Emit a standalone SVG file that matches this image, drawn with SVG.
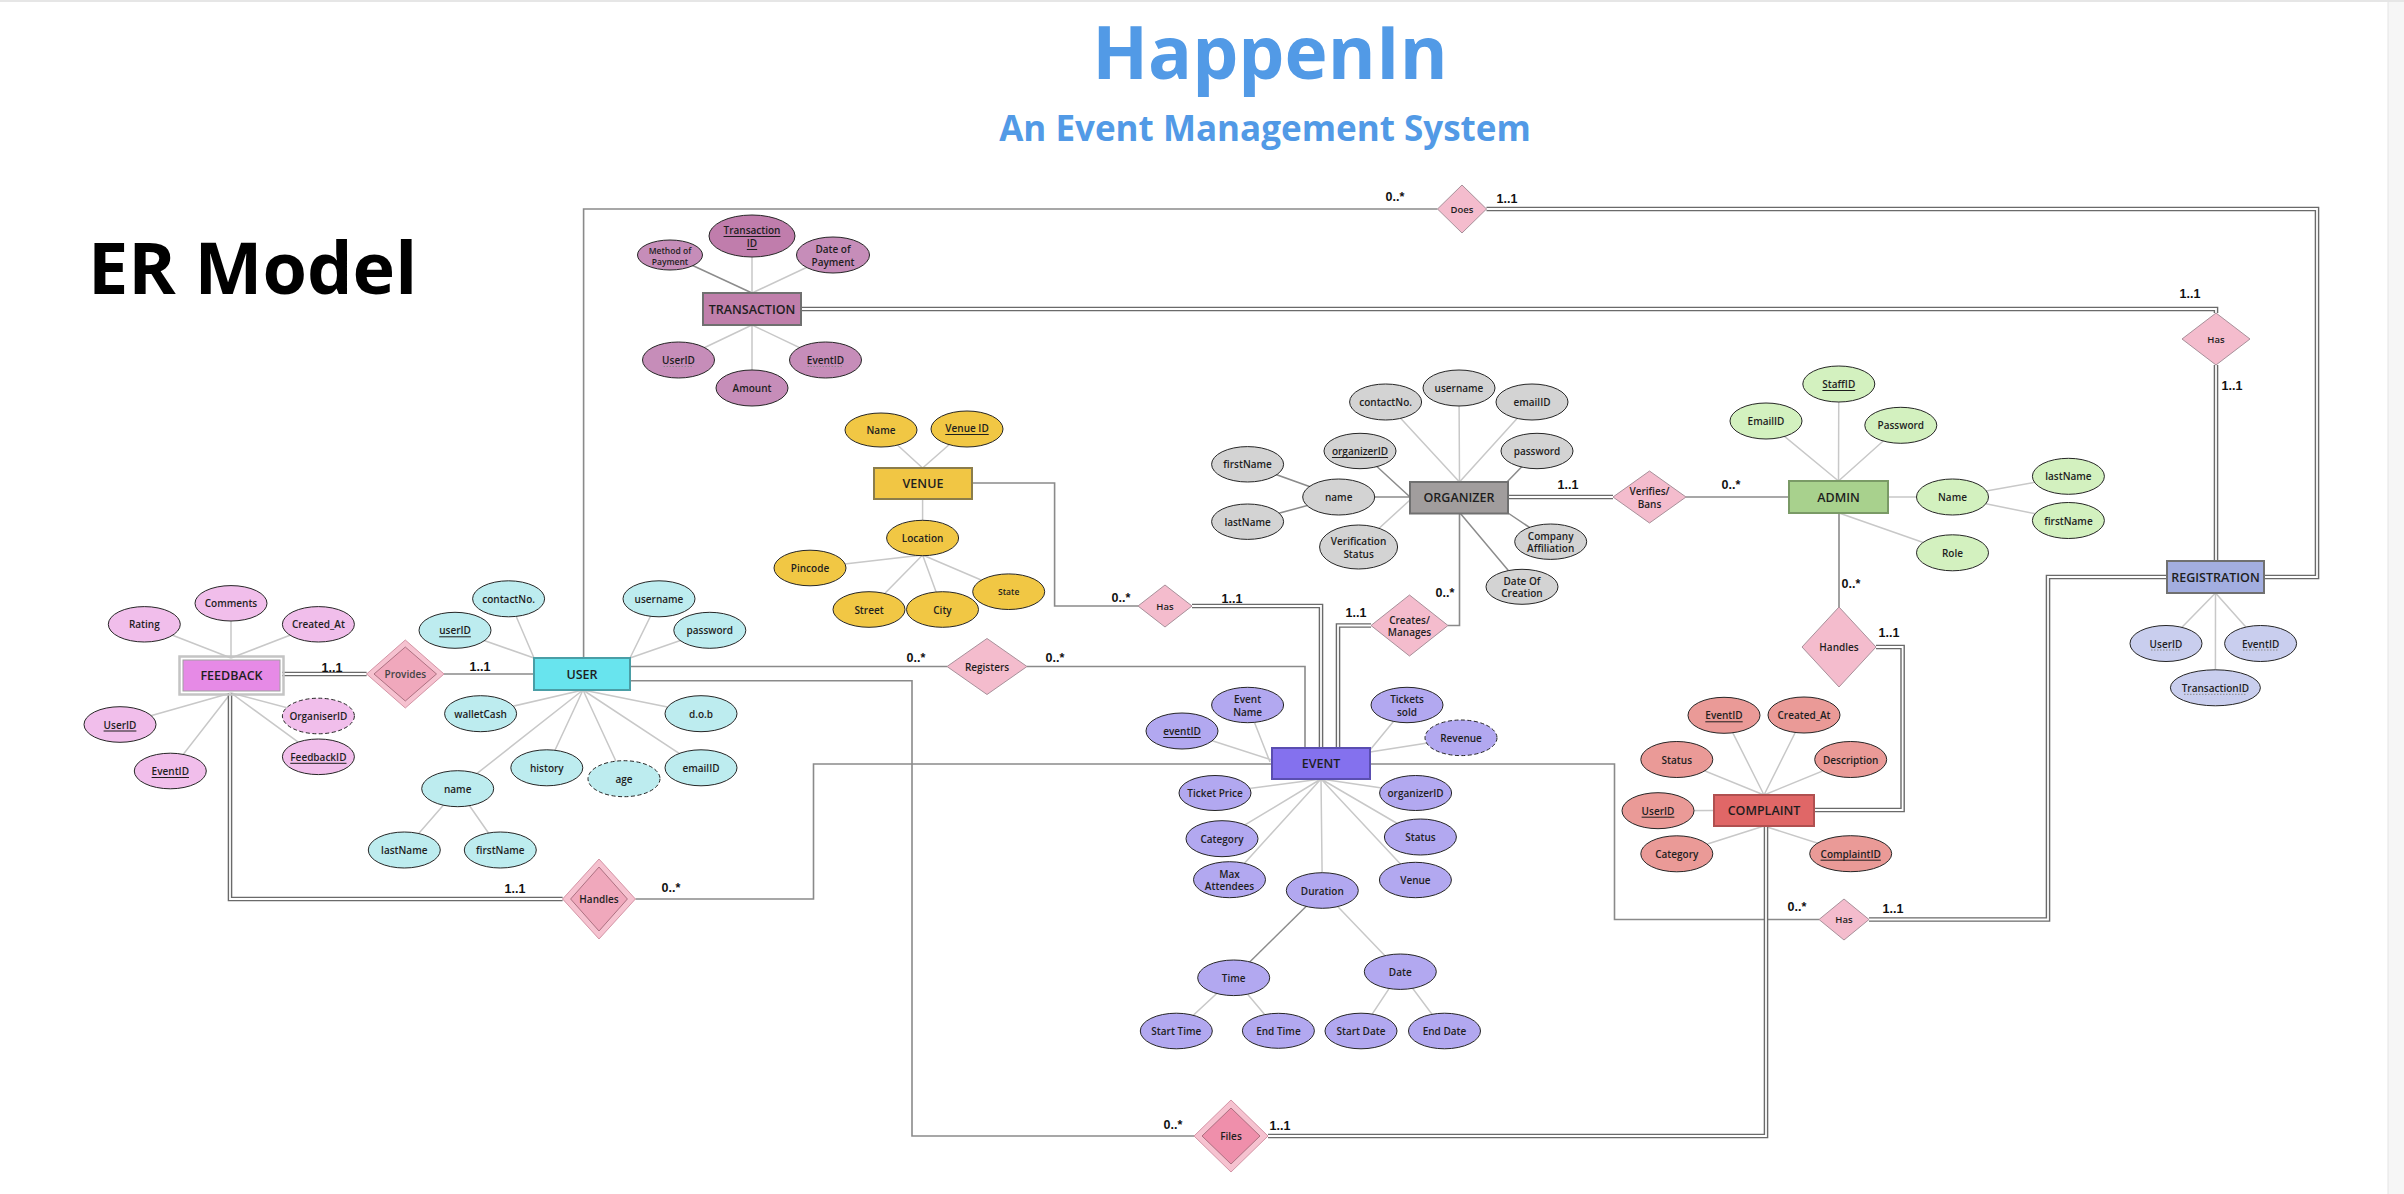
<svg xmlns="http://www.w3.org/2000/svg" width="2404" height="1194" viewBox="0 0 2404 1194">
<style>
text{font-family:"Open Sans","Noto Sans","DejaVu Sans",sans-serif;font-weight:600;font-size:10px;text-anchor:middle;dominant-baseline:central;fill:#1e1e1e}
.ent{stroke:#707070;stroke-width:2}
.att{stroke:#262626;stroke-width:1}
.dash{stroke-dasharray:4 2.5}
.el{font-size:12.5px}
.sm{font-size:8.5px}
.al{stroke:#c8c8c8;stroke-width:1.5;fill:none}
.ad{stroke:#8c8c8c;stroke-width:1.5;fill:none}
.rl{stroke:#8a8a8a;stroke-width:1.6;fill:none}
.dbo{stroke:#6a6a6a;stroke-width:4.6;fill:none}
.dbi{stroke:#fff;stroke-width:1.8;fill:none}
.rel{fill:#F4BCCD;stroke:#a8909a;stroke-width:1}
.relo{fill:#F6C2D0;stroke:#d495a6;stroke-width:1}
.reli{fill:#F0A8BC;stroke:#9a6070;stroke-width:0.8}
.relf{fill:#EF8FAB;stroke:#9a6070;stroke-width:0.8}
.card{font-family:"Liberation Sans",Arial,sans-serif;font-weight:bold;font-size:12.5px;fill:#111}
.pk{text-decoration:underline}
.fk{stroke:#8a8a8a;stroke-width:1;stroke-dasharray:1.5 1.5}
.tre{fill:#C07FAB}.tra{fill:#C68DB9}.trk{fill:#C07DAC}
.vee{fill:#F1C644}.vea{fill:#F1C744}
.ore{fill:#A19D9D}.ora{fill:#D3D3D3}
.ade{fill:#A8D18D}.ada{fill:#D3F1BF}
.rge{fill:#A3AEE0}.rga{fill:#C9CEEE}
.coe{fill:#E06767}.coa{fill:#EA9A97}
.eve{fill:#8471EE}.eva{fill:#B2A8F0}
.use{fill:#68E4EE}.usa{fill:#BDECEF}
.fbe{fill:#E68AE6}.fba{fill:#F1BEEB}
</style>
<rect x="0" y="0" width="2404" height="1194" fill="#fff"/>
<rect x="2388" y="0" width="16" height="1194" fill="#f6f6f6"/>
<line x1="2388" y1="0" x2="2388" y2="1194" stroke="#e4e4e4" stroke-width="1"/>
<line x1="0" y1="1" x2="2404" y2="1" stroke="#e6e6e6" stroke-width="2"/>

<g id="titles">
<text x="1270" y="50" style="font-family:'Open Sans','Noto Sans',sans-serif;font-weight:bold;font-size:73px;fill:#529AE6">HappenIn</text>
<text x="1265" y="127" style="font-family:'Open Sans','Noto Sans',sans-serif;font-weight:bold;font-size:35px;fill:#529AE6">An Event Management System</text>
<text x="88" y="266" style="font-family:'Open Sans','Noto Sans',sans-serif;font-weight:bold;font-size:72px;fill:#000;text-anchor:start">ER Model</text>
</g>

<g id="connectors">
<g>
<path class="ad" d="M752,293L670,255"/>
<path class="al" d="M752,293L752,236M752,293L833,255M752,325L678.5,360M752,325L752,388M752,325L825.5,360"/>
<path class="al" d="M922.6,468L881,430M922.6,468L967,429M922.6,499L922.6,538M922.6,555L810,568M922.6,555L869,609.5M922.6,555L942.5,609.5M922.6,555L1008.7,591.7"/>
<path class="al" d="M1459.5,482L1385.6,402M1459.5,482L1459,388M1459.5,482L1532,402M1410,500L1358.6,547"/>
<path class="ad" d="M1507,482L1537,451M1410,497L1360,451M1410,497L1338.7,497M1338.7,497L1247.6,464.3M1338.7,497L1247.6,521.7M1508,513L1550.7,541.7M1460,513L1522,586.8"/>
<path class="al" d="M1838.5,481L1838.8,384M1838.5,481L1766,421M1838.5,481L1900.8,425.3M1888,497L1952.5,497M1952.5,497L2068.4,476.3M1952.5,497L2068.4,520.5M1839,513L1952.5,552.8"/>
<path class="al" d="M2215.5,593L2166,643.5M2215.5,593L2260.6,643.5M2215.5,593L2215.4,687.8"/>
<path class="al" d="M1764,795L1724,715.3M1764,795L1804,715M1764,795L1676.8,759.5M1764,795L1850.7,759.5M1714,810.5L1658,810.7M1764,826L1676.8,853.8M1764,826L1850.7,853.7"/>
<path class="al" d="M1272,760L1182,731M1270,762L1247.6,705M1370,750L1407,705M1370,752L1461,737.8M1321,779L1215,793M1321,779L1222,838.7M1321,779L1229.5,879.7M1321,779L1322.3,890.5M1321,779L1415.6,793M1321,779L1420.4,837M1321,779L1415.4,880M1322.3,890.5L1400.3,971.7M1233.7,977.8L1176.3,1031M1233.7,977.8L1278.4,1030.8M1400.3,971.7L1361,1031M1400.3,971.7L1444.5,1031"/>
<path class="ad" d="M1322.3,890.5L1233.7,977.8"/>
<path class="al" d="M534,658L508.6,598.8M534,658L455,630.3M630,658L659,598.8M630,658L709.8,630.3M583,690L480.6,713.7M583,690L546.8,767.8M583,690L457.7,788.7M583,690L624,778.7M583,690L701,713.7M583,690L701,767.8M457.7,788.7L404.3,850M457.7,788.7L500.3,850"/>
<path class="al" d="M231,658L144.3,624.3M231,658L231,603.3M231,658L318.4,624.3M231,693L120,724.5M231,693L170.3,771M231,693L318.4,716M231,693L318.4,756.8"/>
</g>
<path class="rl" d="M583.6,658V209H1437.5"/>
<path class="dbo" d="M1486.5,209H2317V577H2264"/><path class="dbi" d="M1486.5,209H2317V577H2264"/>
<path class="dbo" d="M801,309H2216V313"/><path class="dbi" d="M801,309H2216V313"/>
<path class="dbo" d="M2216,365V561"/><path class="dbi" d="M2216,365V561"/>
<path class="rl" d="M972,483H1054.6V606H1138"/>
<path class="dbo" d="M1192,606H1321V748"/><path class="dbi" d="M1192,606H1321V748"/>
<path class="rl" d="M1459.5,513V625.5H1448"/>
<path class="dbo" d="M1371,625.5H1338V748"/><path class="dbi" d="M1371,625.5H1338V748"/>
<path class="dbo" d="M1508,497H1613"/><path class="dbi" d="M1508,497H1613"/>
<path class="rl" d="M1686,497H1789"/>
<path class="rl" d="M1839,513V607"/>
<path class="dbo" d="M1876,647H1902.6V810H1814"/><path class="dbi" d="M1876,647H1902.6V810H1814"/>
<path class="rl" d="M1370,764H1614.5V919.5H1819"/>
<path class="dbo" d="M1869,919.5H2048V577H2167"/><path class="dbi" d="M1869,919.5H2048V577H2167"/>
<path class="rl" d="M630,666.5H947"/>
<path class="rl" d="M1027,666.5H1305V748"/>
<path class="rl" d="M630,680.7H912V1136H1194"/>
<path class="dbo" d="M1268,1136H1766V826"/><path class="dbi" d="M1268,1136H1766V826"/>
<path class="dbo" d="M282,674H366.6"/><path class="dbi" d="M282,674H366.6"/>
<path class="rl" d="M444,674H534"/>
<path class="dbo" d="M230,693V899H562.6"/><path class="dbi" d="M230,693V899H562.6"/>
<path class="rl" d="M635.4,899H813.5V764H1272"/>
<text class="card" x="1395" y="197">0..*</text><text class="card" x="1507" y="199">1..1</text>
<text class="card" x="2190" y="294">1..1</text><text class="card" x="2232" y="386">1..1</text>
<text class="card" x="1121" y="598">0..*</text><text class="card" x="1232" y="599">1..1</text>
<text class="card" x="1445" y="593">0..*</text><text class="card" x="1356" y="613">1..1</text>
<text class="card" x="1568" y="485">1..1</text><text class="card" x="1731" y="485">0..*</text>
<text class="card" x="1851" y="584">0..*</text><text class="card" x="1889" y="633">1..1</text>
<text class="card" x="1797" y="907">0..*</text><text class="card" x="1893" y="909">1..1</text>
<text class="card" x="916" y="658">0..*</text><text class="card" x="1055" y="658">0..*</text>
<text class="card" x="1173" y="1125">0..*</text><text class="card" x="1280" y="1126">1..1</text>
<text class="card" x="332" y="668">1..1</text><text class="card" x="480" y="667">1..1</text>
<text class="card" x="515" y="889">1..1</text><text class="card" x="671" y="888">0..*</text>
</g>

<g id="r-does"><polygon class="rel" points="1437.5,209 1462,185 1486.5,209 1462,233"/><text x="1462" y="209" style="font-size:9.5px">Does</text></g>
<g id="r-has-transaction"><polygon class="rel" points="2182,339 2216,313 2250,339 2216,365"/><text x="2216" y="339" style="font-size:9.5px">Has</text></g>
<g id="r-has-venue"><polygon class="rel" points="1138,606 1165,585 1192,606 1165,627"/><text x="1165" y="606" style="font-size:9.5px">Has</text></g>
<g id="r-creates"><polygon class="rel" points="1371,625.5 1409.5,595 1448,625.5 1409.5,656"/><text x="1409.5" y="625.5"><tspan x="1409.5" dy="-0.6em">Creates/</tspan><tspan x="1409.5" dy="1.25em">Manages</tspan></text></g>
<g id="r-verifies"><polygon class="rel" points="1613,497 1649.5,471 1686,497 1649.5,523"/><text x="1649.5" y="497"><tspan x="1649.5" dy="-0.6em">Verifies/</tspan><tspan x="1649.5" dy="1.25em">Bans</tspan></text></g>
<g id="r-handles-admin"><polygon class="rel" points="1802,647 1839,607 1876,647 1839,687"/><text x="1839" y="647">Handles</text></g>
<g id="r-has-complaint"><polygon class="rel" points="1819,919.5 1844,899 1869,919.5 1844,940"/><text x="1844" y="919.5" style="font-size:9.5px">Has</text></g>
<g id="r-registers"><polygon class="rel" points="947,666.5 987,638.5 1027,666.5 987,694.5"/><text x="987" y="666.5">Registers</text></g>
<g id="r-files"><polygon class="relo" points="1194,1136 1231,1100 1268,1136 1231,1172"/><polygon class="relf" points="1202,1136 1231,1108 1260,1136 1231,1164"/><text x="1231" y="1136">Files</text></g>
<g id="r-provides"><polygon class="relo" points="366.6,674 405.3,640 444,674 405.3,708"/><polygon class="reli" points="374,674 405.3,647 436.5,674 405.3,701"/><text x="405.3" y="674" style="fill:#444">Provides</text></g>
<g id="r-handles-feedback"><polygon class="relo" points="562.6,899 599,859 635.4,899 599,939"/><polygon class="reli" points="570.6,899 599,867 627.4,899 599,931"/><text x="599" y="899">Handles</text></g>

<g id="e-transaction"><rect class="ent tre" x="703" y="293" width="98" height="32"/><text class="el" x="752" y="309">TRANSACTION</text></g>
<g id="a-tr-method"><ellipse class="att tra" cx="670" cy="255" rx="32.5" ry="15"/><text class="sm" x="670" y="255"><tspan x="670" dy="-0.55em">Method of</tspan><tspan x="670" dy="1.25em">Payment</tspan></text></g>
<g id="a-tr-id"><ellipse class="att trk" cx="752" cy="236" rx="43" ry="21"/><text class="pk" x="752" y="236"><tspan x="752" dy="-0.6em">Transaction</tspan><tspan x="752" dy="1.3em">ID</tspan></text></g>
<g id="a-tr-date"><ellipse class="att tra" cx="833" cy="255" rx="36.5" ry="18"/><text x="833" y="255"><tspan x="833" dy="-0.6em">Date of</tspan><tspan x="833" dy="1.3em">Payment</tspan></text></g>
<g id="a-tr-userid"><ellipse class="att tra" cx="678.5" cy="360" rx="36" ry="18"/><text x="678.5" y="360">UserID</text><line class="fk" x1="663.5" y1="366.5" x2="693.5" y2="366.5"/></g>
<g id="a-tr-amount"><ellipse class="att tra" cx="752" cy="388" rx="36" ry="18"/><text x="752" y="388">Amount</text></g>
<g id="a-tr-eventid"><ellipse class="att tra" cx="825.5" cy="360" rx="36" ry="18"/><text x="825.5" y="360">EventID</text><line class="fk" x1="807.5" y1="366.5" x2="843.5" y2="366.5"/></g>

<g id="e-venue"><rect class="ent vee" x="874" y="468" width="98" height="31" style="stroke:#8b7d4b"/><text class="el" x="923" y="483.5">VENUE</text></g>
<g id="a-ve-name"><ellipse class="att vea" cx="881" cy="430" rx="36" ry="17"/><text x="881" y="430">Name</text></g>
<g id="a-ve-id"><ellipse class="att vea" cx="967" cy="429" rx="36" ry="18"/><text class="pk" x="967" y="428">Venue ID</text></g>
<g id="a-ve-location"><ellipse class="att vea" cx="922.6" cy="538" rx="36" ry="17.7"/><text x="922.6" y="538">Location</text></g>
<g id="a-ve-pincode"><ellipse class="att vea" cx="810" cy="568" rx="36" ry="17.8"/><text x="810" y="568">Pincode</text></g>
<g id="a-ve-street"><ellipse class="att vea" cx="869" cy="609.5" rx="36" ry="17.8"/><text x="869" y="609.5">Street</text></g>
<g id="a-ve-city"><ellipse class="att vea" cx="942.5" cy="609.5" rx="36" ry="17.8"/><text x="942.5" y="609.5">City</text></g>
<g id="a-ve-state"><ellipse class="att vea" cx="1008.7" cy="591.7" rx="36" ry="17.8"/><text class="sm" x="1008.7" y="591.7">State</text></g>

<g id="e-organizer"><rect class="ent ore" x="1410" y="482" width="98" height="31.5"/><text class="el" x="1459" y="497.5">ORGANIZER</text></g>
<g id="a-or-contact"><ellipse class="att ora" cx="1385.6" cy="402" rx="36" ry="18"/><text x="1385.6" y="402">contactNo.</text></g>
<g id="a-or-username"><ellipse class="att ora" cx="1459" cy="388" rx="36" ry="18"/><text x="1459" y="388">username</text></g>
<g id="a-or-email"><ellipse class="att ora" cx="1532" cy="402" rx="36" ry="18"/><text x="1532" y="402">emailID</text></g>
<g id="a-or-id"><ellipse class="att ora" cx="1360" cy="451" rx="36" ry="17.7"/><text class="pk" x="1360" y="451">organizerID</text></g>
<g id="a-or-password"><ellipse class="att ora" cx="1537" cy="451" rx="36" ry="17.7"/><text x="1537" y="451">password</text></g>
<g id="a-or-first"><ellipse class="att ora" cx="1247.6" cy="464.3" rx="36" ry="17.7"/><text x="1247.6" y="464.3">firstName</text></g>
<g id="a-or-name"><ellipse class="att ora" cx="1338.7" cy="497" rx="36" ry="18"/><text x="1338.7" y="497">name</text></g>
<g id="a-or-last"><ellipse class="att ora" cx="1247.6" cy="521.7" rx="36" ry="17.7"/><text x="1247.6" y="521.7">lastName</text></g>
<g id="a-or-verif"><ellipse class="att ora" cx="1358.6" cy="547" rx="39" ry="22"/><text x="1358.6" y="547"><tspan x="1358.6" dy="-0.6em">Verification</tspan><tspan x="1358.6" dy="1.25em">Status</tspan></text></g>
<g id="a-or-company"><ellipse class="att ora" cx="1550.7" cy="541.7" rx="36" ry="17.7"/><text x="1550.7" y="541.7"><tspan x="1550.7" dy="-0.6em">Company</tspan><tspan x="1550.7" dy="1.25em">Affiliation</tspan></text></g>
<g id="a-or-doc"><ellipse class="att ora" cx="1522" cy="586.8" rx="36" ry="17.5"/><text x="1522" y="586.8"><tspan x="1522" dy="-0.6em">Date Of</tspan><tspan x="1522" dy="1.25em">Creation</tspan></text></g>

<g id="e-admin"><rect class="ent ade" x="1789" y="481" width="99" height="32" style="stroke:#7a9a66"/><text class="el" x="1838.5" y="497">ADMIN</text></g>
<g id="a-ad-staff"><ellipse class="att ada" cx="1838.8" cy="384" rx="36" ry="18"/><text class="pk" x="1838.8" y="384">StaffID</text></g>
<g id="a-ad-email"><ellipse class="att ada" cx="1766" cy="421" rx="36" ry="18"/><text x="1766" y="421">EmailID</text></g>
<g id="a-ad-password"><ellipse class="att ada" cx="1900.8" cy="425.3" rx="36" ry="18"/><text x="1900.8" y="425.3">Password</text></g>
<g id="a-ad-name"><ellipse class="att ada" cx="1952.5" cy="497" rx="36" ry="18"/><text x="1952.5" y="497">Name</text></g>
<g id="a-ad-last"><ellipse class="att ada" cx="2068.4" cy="476.3" rx="36" ry="18"/><text x="2068.4" y="476.3">lastName</text></g>
<g id="a-ad-first"><ellipse class="att ada" cx="2068.4" cy="520.5" rx="36" ry="18"/><text x="2068.4" y="520.5">firstName</text></g>
<g id="a-ad-role"><ellipse class="att ada" cx="1952.5" cy="552.8" rx="36" ry="18"/><text x="1952.5" y="552.8">Role</text></g>

<g id="e-registration"><rect class="ent rge" x="2167" y="561" width="97" height="32"/><text class="el" x="2215.5" y="577">REGISTRATION</text></g>
<g id="a-rg-user"><ellipse class="att rga" cx="2166" cy="643.5" rx="36" ry="18"/><text x="2166" y="643.5">UserID</text><line class="fk" x1="2151" y1="650" x2="2181" y2="650"/></g>
<g id="a-rg-event"><ellipse class="att rga" cx="2260.6" cy="643.5" rx="36" ry="18"/><text x="2260.6" y="643.5">EventID</text><line class="fk" x1="2243" y1="650" x2="2278" y2="650"/></g>
<g id="a-rg-trans"><ellipse class="att rga" cx="2215.4" cy="687.8" rx="45" ry="18"/><text x="2215.4" y="687.8">TransactionID</text><line class="fk" x1="2184" y1="694.3" x2="2247" y2="694.3"/></g>

<g id="e-complaint"><rect class="ent coe" x="1714" y="795" width="100" height="31" style="stroke:#b05050"/><text class="el" x="1764" y="810.5">COMPLAINT</text></g>
<g id="a-co-event"><ellipse class="att coa" cx="1724" cy="715.3" rx="36" ry="18"/><text class="pk" x="1724" y="715.3">EventID</text></g>
<g id="a-co-created"><ellipse class="att coa" cx="1804" cy="715" rx="36" ry="18"/><text x="1804" y="715">Created_At</text></g>
<g id="a-co-status"><ellipse class="att coa" cx="1676.8" cy="759.5" rx="36" ry="18"/><text x="1676.8" y="759.5">Status</text></g>
<g id="a-co-desc"><ellipse class="att coa" cx="1850.7" cy="759.5" rx="36" ry="18"/><text x="1850.7" y="759.5">Description</text></g>
<g id="a-co-user"><ellipse class="att coa" cx="1658" cy="810.7" rx="36" ry="18"/><text class="pk" x="1658" y="810.7">UserID</text></g>
<g id="a-co-category"><ellipse class="att coa" cx="1676.8" cy="853.8" rx="36" ry="18"/><text x="1676.8" y="853.8">Category</text></g>
<g id="a-co-id"><ellipse class="att coa" cx="1850.7" cy="853.7" rx="41" ry="18"/><text class="pk" x="1850.7" y="853.7">ComplaintID</text></g>

<g id="e-event"><rect class="ent eve" x="1272" y="748" width="98" height="31" style="stroke:#5a4eb0"/><text class="el" x="1321" y="763.5">EVENT</text></g>
<g id="a-ev-id"><ellipse class="att eva" cx="1182" cy="731" rx="36" ry="18"/><text class="pk" x="1182" y="731">eventID</text></g>
<g id="a-ev-name"><ellipse class="att eva" cx="1247.6" cy="705" rx="36" ry="17.7"/><text x="1247.6" y="705"><tspan x="1247.6" dy="-0.6em">Event</tspan><tspan x="1247.6" dy="1.25em">Name</tspan></text></g>
<g id="a-ev-tickets"><ellipse class="att eva" cx="1407" cy="705" rx="36" ry="17.7"/><text x="1407" y="705"><tspan x="1407" dy="-0.6em">Tickets</tspan><tspan x="1407" dy="1.25em">sold</tspan></text></g>
<g id="a-ev-revenue"><ellipse class="att eva dash" cx="1461" cy="737.8" rx="36" ry="17.8"/><text x="1461" y="737.8">Revenue</text></g>
<g id="a-ev-price"><ellipse class="att eva" cx="1215" cy="793" rx="36" ry="17.5"/><text x="1215" y="793">Ticket Price</text></g>
<g id="a-ev-org"><ellipse class="att eva" cx="1415.6" cy="793" rx="36" ry="17.5"/><text x="1415.6" y="793">organizerID</text></g>
<g id="a-ev-category"><ellipse class="att eva" cx="1222" cy="838.7" rx="36" ry="18"/><text x="1222" y="838.7">Category</text></g>
<g id="a-ev-status"><ellipse class="att eva" cx="1420.4" cy="837" rx="36" ry="18"/><text x="1420.4" y="837">Status</text></g>
<g id="a-ev-max"><ellipse class="att eva" cx="1229.5" cy="879.7" rx="36" ry="18"/><text x="1229.5" y="879.7"><tspan x="1229.5" dy="-0.6em">Max</tspan><tspan x="1229.5" dy="1.25em">Attendees</tspan></text></g>
<g id="a-ev-venue"><ellipse class="att eva" cx="1415.4" cy="880" rx="36" ry="17.7"/><text x="1415.4" y="880">Venue</text></g>
<g id="a-ev-duration"><ellipse class="att eva" cx="1322.3" cy="890.5" rx="36" ry="17.8"/><text x="1322.3" y="890.5">Duration</text></g>
<g id="a-ev-time"><ellipse class="att eva" cx="1233.7" cy="977.8" rx="36" ry="17.8"/><text x="1233.7" y="977.8">Time</text></g>
<g id="a-ev-date"><ellipse class="att eva" cx="1400.3" cy="971.7" rx="36" ry="17.7"/><text x="1400.3" y="971.7">Date</text></g>
<g id="a-ev-stime"><ellipse class="att eva" cx="1176.3" cy="1031" rx="36" ry="17.8"/><text x="1176.3" y="1031">Start Time</text></g>
<g id="a-ev-etime"><ellipse class="att eva" cx="1278.4" cy="1030.8" rx="36" ry="17.5"/><text x="1278.4" y="1030.8">End Time</text></g>
<g id="a-ev-sdate"><ellipse class="att eva" cx="1361" cy="1031" rx="36" ry="17.8"/><text x="1361" y="1031">Start Date</text></g>
<g id="a-ev-edate"><ellipse class="att eva" cx="1444.5" cy="1031" rx="36" ry="17.8"/><text x="1444.5" y="1031">End Date</text></g>

<g id="e-user"><rect class="ent use" x="534" y="658" width="96" height="32" style="stroke:#4a9ea6"/><text class="el" x="582" y="674">USER</text></g>
<g id="a-us-contact"><ellipse class="att usa" cx="508.6" cy="598.8" rx="36" ry="18"/><text x="508.6" y="598.8">contactNo.</text></g>
<g id="a-us-id"><ellipse class="att usa" cx="455" cy="630.3" rx="36" ry="18"/><text class="pk" x="455" y="630.3">userID</text></g>
<g id="a-us-wallet"><ellipse class="att usa" cx="480.6" cy="713.7" rx="36" ry="18"/><text x="480.6" y="713.7">walletCash</text></g>
<g id="a-us-history"><ellipse class="att usa" cx="546.8" cy="767.8" rx="36" ry="18"/><text x="546.8" y="767.8">history</text></g>
<g id="a-us-name"><ellipse class="att usa" cx="457.7" cy="788.7" rx="36" ry="18"/><text x="457.7" y="788.7">name</text></g>
<g id="a-us-age"><ellipse class="att usa dash" cx="624" cy="778.7" rx="36" ry="18"/><text x="624" y="778.7">age</text></g>
<g id="a-us-username"><ellipse class="att usa" cx="659" cy="598.8" rx="36" ry="18"/><text x="659" y="598.8">username</text></g>
<g id="a-us-password"><ellipse class="att usa" cx="709.8" cy="630.3" rx="36" ry="18"/><text x="709.8" y="630.3">password</text></g>
<g id="a-us-dob"><ellipse class="att usa" cx="701" cy="713.7" rx="36" ry="18"/><text x="701" y="713.7">d.o.b</text></g>
<g id="a-us-email"><ellipse class="att usa" cx="701" cy="767.8" rx="36" ry="18"/><text x="701" y="767.8">emailID</text></g>
<g id="a-us-last"><ellipse class="att usa" cx="404.3" cy="850" rx="36" ry="18"/><text x="404.3" y="850">lastName</text></g>
<g id="a-us-first"><ellipse class="att usa" cx="500.3" cy="850" rx="36" ry="18"/><text x="500.3" y="850">firstName</text></g>

<g id="e-feedback"><rect x="179.5" y="656.5" width="104" height="38" fill="none" stroke="#c4c4c4" stroke-width="2.5"/><rect class="fbe" x="183" y="660" width="97" height="31" stroke="#a0a0a0" stroke-width="1"/><text class="el" x="231.5" y="675.5">FEEDBACK</text></g>
<g id="a-fb-rating"><ellipse class="att fba" cx="144.3" cy="624.3" rx="36" ry="17.7"/><text x="144.3" y="624.3">Rating</text></g>
<g id="a-fb-comments"><ellipse class="att fba" cx="231" cy="603.3" rx="36" ry="17.7"/><text x="231" y="603.3">Comments</text></g>
<g id="a-fb-created"><ellipse class="att fba" cx="318.4" cy="624.3" rx="36" ry="17.7"/><text x="318.4" y="624.3">Created_At</text></g>
<g id="a-fb-user"><ellipse class="att fba" cx="120" cy="724.5" rx="36" ry="17.8"/><text class="pk" x="120" y="724.5">UserID</text></g>
<g id="a-fb-event"><ellipse class="att fba" cx="170.3" cy="771" rx="36" ry="17.8"/><text class="pk" x="170.3" y="771">EventID</text></g>
<g id="a-fb-org"><ellipse class="att fba dash" cx="318.4" cy="716" rx="36" ry="17.8"/><text x="318.4" y="716">OrganiserID</text></g>
<g id="a-fb-id"><ellipse class="att fba" cx="318.4" cy="756.8" rx="36" ry="17.8"/><text class="pk" x="318.4" y="756.8">FeedbackID</text></g>
</svg>
